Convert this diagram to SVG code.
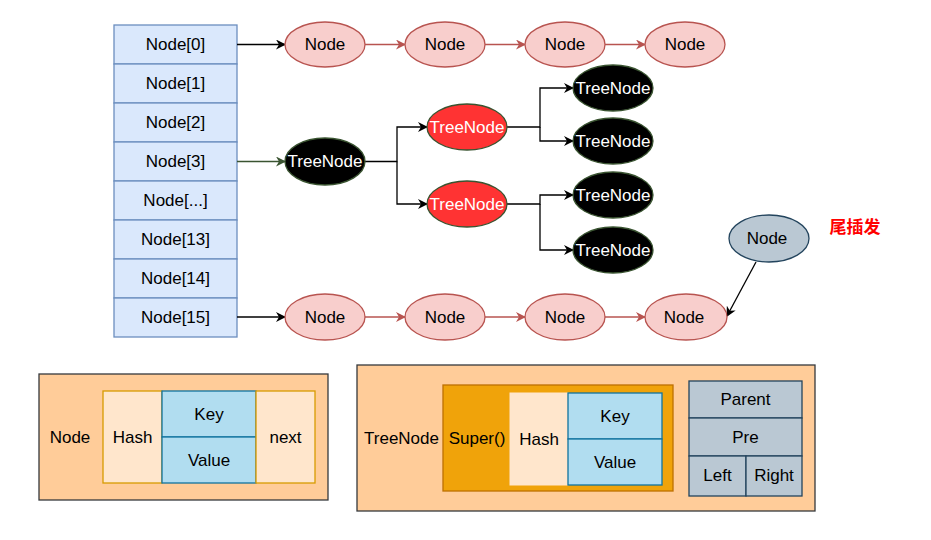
<svg xmlns="http://www.w3.org/2000/svg" width="931" height="540" viewBox="0 0 931 540">
<defs>
<marker id="ab" markerWidth="10" markerHeight="10" refX="9" refY="5" orient="auto" markerUnits="userSpaceOnUse"><path d="M0,0 L10,5 L0,10 L3,5 Z" fill="#000"/></marker>
<marker id="ar" markerWidth="10" markerHeight="10" refX="9" refY="5" orient="auto" markerUnits="userSpaceOnUse"><path d="M0,0 L10,5 L0,10 L3,5 Z" fill="#b85450"/></marker>
<marker id="ag" markerWidth="10" markerHeight="10" refX="9" refY="5" orient="auto" markerUnits="userSpaceOnUse"><path d="M0,0 L10,5 L0,10 L3,5 Z" fill="#3a5431"/></marker>
</defs>
<style>
text{font-family:"Liberation Sans",Arial,sans-serif;font-size:17px;text-anchor:middle;dominant-baseline:central;fill:#000}
.arr rect{fill:#dae8fc;stroke:#6c8ebf;stroke-width:1.3}
.n ellipse{fill:#f8cecc;stroke:#b85450;stroke-width:1.3}
.tb ellipse{fill:#000;stroke:#3a5431;stroke-width:1.3}
.tr ellipse{fill:#ff3333;stroke:#3a5431;stroke-width:1.3}
.tb text,.tr text{fill:#fff}
.g ellipse{fill:#bac8d3;stroke:#23445d;stroke-width:1.3}
.c path{fill:none;stroke-width:1.3}
.k{stroke:#000;marker-end:url(#ab)}
.r{stroke:#b85450;marker-end:url(#ar)}
.gr{stroke:#3a5431;marker-end:url(#ag)}
.outer{fill:#ffcc99;stroke:#36393d;stroke-width:1.3}
.hash{fill:#ffe6cc;stroke:#d79b00;stroke-width:1.3}
.kv{fill:#b1ddf0;stroke:#10739e;stroke-width:1.3}
.sup{fill:#f0a30a;stroke:#bd7000;stroke-width:1.3}
.bl{fill:#bac8d3;stroke:#23445d;stroke-width:1.3}
</style>
<g id="array" class="arr">
<rect x="114" y="25" width="123" height="39"/><text x="175.5" y="44.5">Node[0]</text>
<rect x="114" y="64" width="123" height="39"/><text x="175.5" y="83.5">Node[1]</text>
<rect x="114" y="103" width="123" height="39"/><text x="175.5" y="122.5">Node[2]</text>
<rect x="114" y="142" width="123" height="39"/><text x="175.5" y="161.5">Node[3]</text>
<rect x="114" y="181" width="123" height="39"/><text x="175.5" y="200.5">Node[...]</text>
<rect x="114" y="220" width="123" height="39"/><text x="175.5" y="239.5">Node[13]</text>
<rect x="114" y="259" width="123" height="39"/><text x="175.5" y="278.5">Node[14]</text>
<rect x="114" y="298" width="123" height="39"/><text x="175.5" y="317.5">Node[15]</text>
</g>
<g id="connectors" class="c">
<path class="k" d="M237,44.5 H285"/>
<path class="r" d="M365,44.5 H405"/>
<path class="r" d="M485,44.5 H525"/>
<path class="r" d="M605,44.5 H645"/>
<path class="gr" d="M237,161.5 H285"/>
<path class="k" d="M365,161.5 H397 V127 H427"/>
<path class="k" d="M397,161.5 V204 H427"/>
<path class="k" d="M507,127 H540 V88 H573"/>
<path class="k" d="M540,127 V141 H573"/>
<path class="k" d="M507,204 H540 V195 H573"/>
<path class="k" d="M540,204 V250 H573"/>
<path class="k" d="M237,317 H285"/>
<path class="r" d="M365,317 H405"/>
<path class="r" d="M485,317 H525"/>
<path class="r" d="M605,317 H645"/>
<path class="k" d="M756,262 L727,316"/>
</g>
<g id="n0a" class="n"><ellipse cx="325" cy="44.5" rx="40" ry="22.5"/><text x="325" y="44.5">Node</text></g>
<g id="n0b" class="n"><ellipse cx="445" cy="44.5" rx="40" ry="22.5"/><text x="445" y="44.5">Node</text></g>
<g id="n0c" class="n"><ellipse cx="565" cy="44.5" rx="40" ry="22.5"/><text x="565" y="44.5">Node</text></g>
<g id="n0d" class="n"><ellipse cx="685" cy="44.5" rx="40" ry="22.5"/><text x="685" y="44.5">Node</text></g>
<g id="t0" class="tb"><ellipse cx="325" cy="161.5" rx="40" ry="23.5"/><text x="325" y="161.5">TreeNode</text></g>
<g id="t1" class="tr"><ellipse cx="467" cy="127" rx="40" ry="23"/><text x="467" y="127">TreeNode</text></g>
<g id="t2" class="tr"><ellipse cx="467" cy="204" rx="40" ry="23"/><text x="467" y="204">TreeNode</text></g>
<g id="t3" class="tb"><ellipse cx="613" cy="88" rx="40" ry="23"/><text x="613" y="88">TreeNode</text></g>
<g id="t4" class="tb"><ellipse cx="613" cy="141" rx="40" ry="23"/><text x="613" y="141">TreeNode</text></g>
<g id="t5" class="tb"><ellipse cx="613" cy="195" rx="40" ry="23"/><text x="613" y="195">TreeNode</text></g>
<g id="t6" class="tb"><ellipse cx="613" cy="250" rx="40" ry="23"/><text x="613" y="250">TreeNode</text></g>
<g id="n15a" class="n"><ellipse cx="325" cy="317" rx="40" ry="23"/><text x="325" y="317">Node</text></g>
<g id="n15b" class="n"><ellipse cx="445" cy="317" rx="40" ry="23"/><text x="445" y="317">Node</text></g>
<g id="n15c" class="n"><ellipse cx="565" cy="317" rx="40" ry="23"/><text x="565" y="317">Node</text></g>
<g id="n15d" class="n"><ellipse cx="686" cy="317" rx="41" ry="23"/><text x="684" y="317">Node</text></g>
<g id="newnode" class="g"><ellipse cx="769" cy="238.5" rx="40" ry="23.5"/><text x="767" y="238.5">Node</text></g>
<g id="label"><text x="855" y="227" style="fill:#ff0000;font-weight:bold;font-size:17px;font-family:'Liberation Sans','Noto Sans CJK SC',sans-serif">尾插发</text></g>
<g id="nodePanel">
<rect class="outer" x="39" y="374" width="289" height="126"/>
<text x="70" y="437">Node</text>
<rect class="hash" x="103" y="391" width="59" height="92"/><text x="132.5" y="437">Hash</text>
<rect class="kv" x="162" y="391" width="94" height="46"/><text x="209" y="414">Key</text>
<rect class="kv" x="162" y="437" width="94" height="46"/><text x="209" y="460">Value</text>
<rect class="hash" x="256" y="391" width="59" height="92"/><text x="285.5" y="437">next</text>
</g>
<g id="treeNodePanel">
<rect class="outer" x="357" y="365" width="458" height="146"/>
<text x="401.5" y="438">TreeNode</text>
<rect class="sup" x="443" y="385" width="230" height="106"/>
<text x="477" y="438">Super()</text>
<rect x="510" y="393" width="58" height="92" fill="#ffe6cc" stroke="#ffe6cc"/><text x="539" y="439">Hash</text>
<rect class="kv" x="568" y="393" width="94" height="46"/><text x="615" y="416">Key</text>
<rect class="kv" x="568" y="439" width="94" height="46"/><text x="615" y="462">Value</text>
<rect class="bl" x="689" y="381" width="113" height="37"/><text x="745.5" y="399">Parent</text>
<rect class="bl" x="689" y="418" width="113" height="38"/><text x="745.5" y="437">Pre</text>
<rect class="bl" x="689" y="456" width="57" height="40"/><text x="717.5" y="475">Left</text>
<rect class="bl" x="746" y="456" width="56" height="40"/><text x="774" y="475">Right</text>
</g>
</svg>
